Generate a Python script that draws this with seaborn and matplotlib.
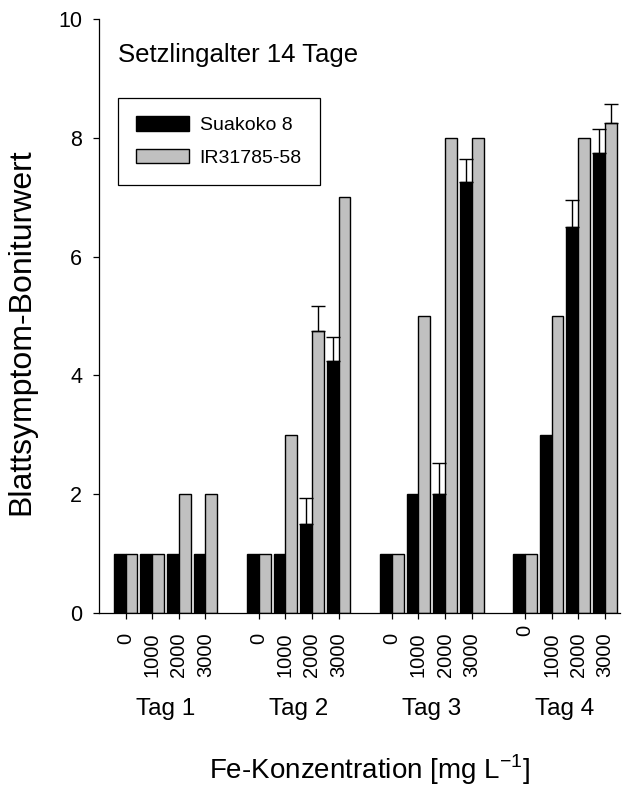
import pandas as pd
import numpy as np
import seaborn as sns
import matplotlib.pyplot as plt
import matplotlib.transforms as mtransforms

sns.set_style("ticks")
plt.rcParams['font.family'] = ['Liberation Sans', 'DejaVu Sans']
plt.rcParams.update({'text.color': 'black', 'axes.labelcolor': 'black', 'xtick.color': 'black',
                     'ytick.color': 'black', 'axes.edgecolor': 'black'})

# values
days = ["Tag 1", "Tag 2", "Tag 3", "Tag 4"]
concs = ["0", "1000", "2000", "3000"]
suakoko = [1, 1, 1, 1, 1, 1, 1.5, 4.25, 1, 2, 2, 7.25, 1, 3, 6.5, 7.75]
suakoko_se = [0, 0, 0, 0, 0, 0, 0.44, 0.4, 0, 0, 0.52, 0.4, 0, 0, 0.45, 0.4]
ir = [1, 1, 2, 2, 1, 3, 4.75, 7, 1, 5, 8, 8, 1, 5, 8, 8.25]
ir_se = [0, 0, 0, 0, 0, 0, 0.42, 0, 0, 0, 0, 0, 0, 0, 0, 0.32]
sorten = ["Suakoko 8", "IR31785-58"]
colors = {"Suakoko 8": "black", "IR31785-58": "#c0c0c0"}

#long table, one row per bar
rows = []
for sorte, vals, ses in [(sorten[0], suakoko, suakoko_se), (sorten[1], ir, ir_se)]:
    i = 0
    for d in days:
        for c in concs:
            rows.append({"slot": d + "|" + c, "sorte": sorte, "score": vals[i], "se": ses[i]})
            i += 1
df = pd.DataFrame(rows)

#category order with an empty slot between the days
order = []
for j, d in enumerate(days):
    if j > 0:
        order.append("gap%d" % j)
    order += [d + "|" + c for c in concs]

fig = plt.figure(figsize=(6.27, 7.89), dpi=100)
ax = fig.add_axes([99/627, 1-613/789, 521/627, 594/789])
sns.barplot(data=df, x="slot", y="score", hue="sorte", order=order, hue_order=sorten,
            palette=colors, saturation=1, width=0.89, errorbar=None,
            edgecolor="black", linewidth=1, ax=ax)

#error bars (upper only) on top of the bars
se_lookup = {(r.slot, r.sorte): r.se for r in df.itertuples()}
for sorte, cont in zip(sorten, ax.containers):
    for bar in cont:
        xc = bar.get_x() + bar.get_width()/2
        slot = order[int(round(xc))]
        se = se_lookup[(slot, sorte)]
        if se > 0:
            ax.errorbar(xc, bar.get_height(), yerr=[[0], [se]], fmt='none',
                        ecolor='black', elinewidth=1, capsize=5, capthick=1)

ax.set_xlim(-1, 18.57)
ax.set_ylim(0, 10)
ax.set_yticks([0, 2, 4, 6, 8, 10])
sns.despine(ax=ax)
for s in ax.spines.values():
    s.set_linewidth(0.9)

ticks = [i for i, o in enumerate(order) if not o.startswith("gap")]
ax.set_xticks(ticks)
ax.set_xticklabels([order[i].split("|")[1] for i in ticks], rotation=90, va="top")
ax.tick_params(axis='x', length=4, width=0.9, pad=10, labelsize=14.5)
ax.tick_params(axis='y', length=4, width=0.9, pad=8, labelsize=15.5)
# the "0" under Tag 4 sits a bit higher in the original
lab = ax.get_xticklabels()[12]
lab.set_transform(lab.get_transform() + mtransforms.ScaledTranslation(0, 0.08, fig.dpi_scale_trans))

for j, d in enumerate(days):
    xc = np.mean([order.index(d + "|" + c) for c in concs])
    ax.text(xc, -0.1717, d, transform=ax.get_xaxis_transform(), ha="center", va="baseline", fontsize=17.5)

ax.set_xlabel("Fe-Konzentration [mg L$^{\\mathregular{-1}}$]", fontsize=20, va="baseline")
ax.xaxis.set_label_coords(0.52, -0.280)
ax.set_ylabel("Blattsymptom-Boniturwert", fontsize=23)
ax.yaxis.set_label_coords(-0.121, 0.474)

ax.text(0.0365, 0.9276, "Setzlingalter 14 Tage", transform=ax.transAxes, fontsize=18.5, va="baseline")

handles, labels = ax.get_legend_handles_labels()
leg = ax.legend(handles, labels, loc="upper left", bbox_to_anchor=(0.0365, 0.867), borderaxespad=0,
                fontsize=14, frameon=True, fancybox=False, edgecolor="black", framealpha=1,
                handlelength=2.7, handleheight=0.75, handletextpad=0.55, labelspacing=0.75, borderpad=0.95)
leg.get_frame().set_linewidth(0.9)

plt.savefig("out.png", dpi=100)
